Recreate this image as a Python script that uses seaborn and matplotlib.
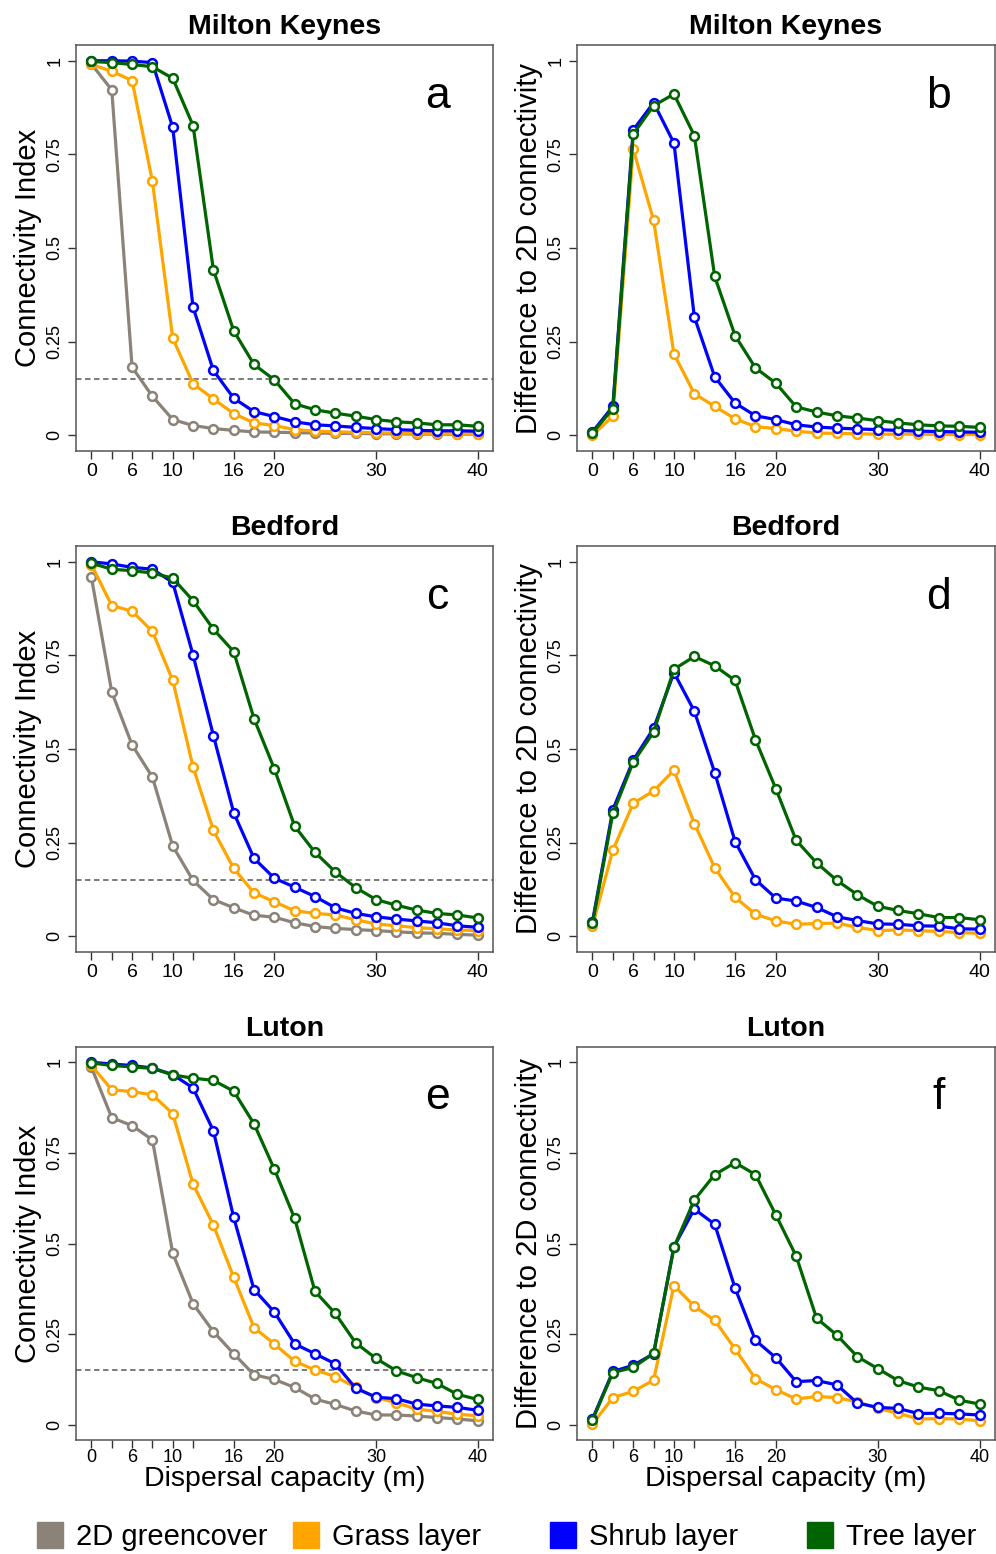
import matplotlib
matplotlib.use("Agg")
import matplotlib.pyplot as plt
import seaborn as sns
import pandas as pd
from matplotlib.lines import Line2D

# dispersal distances (m), plotted at equal spacing
distances = [0, 3, 6, 8, 10, 12, 14, 16, 18, 20, 22, 24, 26, 28, 30, 32, 34, 36, 38, 40]
tick_distances = [0, 3, 6, 8, 10, 12, 16, 20, 30, 40]
tick_labels = ["0", "", "6", "", "10", "", "16", "20", "30", "40"]

layers = ["2D greencover", "Grass layer", "Shrub layer", "Tree layer"]
layer_colors = ["#8B8378", "#FFA500", "#0000FF", "#006400"]
threshold = 0.15

# Milton Keynes - connectivity index
mk_conn_2d = [0.991, 0.922, 0.182, 0.104, 0.042, 0.026, 0.018, 0.013, 0.009, 0.008,
              0.007, 0.006, 0.005, 0.005, 0.004, 0.004, 0.003, 0.003, 0.003, 0.003]
mk_conn_grass = [0.990, 0.972, 0.947, 0.678, 0.259, 0.138, 0.097, 0.058, 0.033, 0.026,
                 0.015, 0.011, 0.009, 0.008, 0.007, 0.006, 0.005, 0.005, 0.004, 0.004]
mk_conn_shrub = [1.0, 1.0, 0.999, 0.995, 0.822, 0.342, 0.173, 0.099, 0.063, 0.050,
                 0.036, 0.028, 0.025, 0.021, 0.018, 0.015, 0.013, 0.012, 0.012, 0.011]
mk_conn_tree = [0.998, 0.995, 0.990, 0.984, 0.953, 0.827, 0.442, 0.279, 0.189, 0.148,
                0.084, 0.068, 0.059, 0.051, 0.042, 0.036, 0.033, 0.028, 0.028, 0.024]

# Milton Keynes - difference to 2D
mk_diff_grass = [0.0, 0.051, 0.764, 0.574, 0.217, 0.111, 0.077, 0.044, 0.023, 0.018,
                 0.011, 0.006, 0.005, 0.004, 0.003, 0.003, 0.003, 0.002, 0.002, 0.002]
mk_diff_shrub = [0.009, 0.077, 0.815, 0.888, 0.780, 0.316, 0.156, 0.086, 0.052, 0.042,
                 0.028, 0.022, 0.019, 0.017, 0.015, 0.013, 0.011, 0.010, 0.009, 0.008]
mk_diff_tree = [0.006, 0.071, 0.804, 0.880, 0.911, 0.800, 0.424, 0.266, 0.180, 0.139,
                0.076, 0.062, 0.052, 0.046, 0.039, 0.033, 0.028, 0.025, 0.024, 0.021]

# Bedford - connectivity index
bd_conn_2d = [0.958, 0.652, 0.511, 0.425, 0.241, 0.149, 0.098, 0.076, 0.056, 0.051,
              0.036, 0.026, 0.021, 0.018, 0.015, 0.012, 0.009, 0.008, 0.005, 0.003]
bd_conn_grass = [0.992, 0.883, 0.868, 0.814, 0.683, 0.452, 0.283, 0.181, 0.116, 0.092,
                 0.068, 0.061, 0.057, 0.044, 0.033, 0.028, 0.023, 0.020, 0.017, 0.015]
bd_conn_shrub = [1.0, 0.994, 0.985, 0.980, 0.945, 0.751, 0.536, 0.330, 0.208, 0.155,
                 0.131, 0.106, 0.076, 0.061, 0.052, 0.046, 0.041, 0.036, 0.028, 0.024]
bd_conn_tree = [0.996, 0.980, 0.976, 0.970, 0.956, 0.896, 0.820, 0.760, 0.581, 0.447,
                0.294, 0.224, 0.172, 0.130, 0.098, 0.083, 0.070, 0.061, 0.057, 0.049]

# Bedford - difference to 2D
bd_diff_grass = [0.028, 0.230, 0.355, 0.388, 0.443, 0.301, 0.183, 0.104, 0.059, 0.041,
                 0.032, 0.034, 0.035, 0.024, 0.015, 0.017, 0.015, 0.013, 0.010, 0.008]
bd_diff_shrub = [0.039, 0.338, 0.470, 0.555, 0.704, 0.601, 0.437, 0.253, 0.151, 0.102,
                 0.094, 0.077, 0.052, 0.042, 0.033, 0.032, 0.028, 0.027, 0.020, 0.019]
bd_diff_tree = [0.035, 0.328, 0.465, 0.545, 0.713, 0.747, 0.722, 0.683, 0.525, 0.394,
                0.256, 0.196, 0.149, 0.111, 0.080, 0.069, 0.060, 0.050, 0.050, 0.044]

# Luton - connectivity index
lu_conn_2d = [0.986, 0.847, 0.825, 0.786, 0.473, 0.334, 0.257, 0.196, 0.138, 0.125,
              0.103, 0.071, 0.056, 0.038, 0.027, 0.027, 0.024, 0.020, 0.016, 0.011]
lu_conn_grass = [0.991, 0.924, 0.919, 0.910, 0.858, 0.664, 0.551, 0.407, 0.268, 0.223,
                 0.175, 0.151, 0.133, 0.103, 0.075, 0.061, 0.043, 0.037, 0.029, 0.025]
lu_conn_shrub = [1.0, 0.995, 0.991, 0.984, 0.966, 0.929, 0.811, 0.572, 0.373, 0.311,
                 0.223, 0.196, 0.168, 0.101, 0.076, 0.072, 0.057, 0.052, 0.048, 0.040]
lu_conn_tree = [0.998, 0.991, 0.987, 0.983, 0.965, 0.956, 0.950, 0.920, 0.830, 0.705,
                0.569, 0.368, 0.307, 0.226, 0.183, 0.149, 0.130, 0.114, 0.084, 0.070]

# Luton - difference to 2D
lu_diff_grass = [0.002, 0.075, 0.092, 0.123, 0.384, 0.327, 0.288, 0.209, 0.127, 0.097,
                 0.071, 0.078, 0.075, 0.063, 0.045, 0.032, 0.016, 0.017, 0.016, 0.011]
lu_diff_shrub = [0.016, 0.147, 0.164, 0.196, 0.491, 0.595, 0.553, 0.377, 0.233, 0.185,
                 0.119, 0.122, 0.110, 0.060, 0.048, 0.045, 0.031, 0.032, 0.030, 0.027]
lu_diff_tree = [0.013, 0.144, 0.158, 0.197, 0.490, 0.620, 0.690, 0.723, 0.690, 0.579,
                0.465, 0.294, 0.247, 0.188, 0.155, 0.122, 0.104, 0.094, 0.068, 0.057]

panels = [
    ("Milton Keynes", "a", "conn", [mk_conn_2d, mk_conn_grass, mk_conn_shrub, mk_conn_tree]),
    ("Milton Keynes", "b", "diff", [None, mk_diff_grass, mk_diff_shrub, mk_diff_tree]),
    ("Bedford", "c", "conn", [bd_conn_2d, bd_conn_grass, bd_conn_shrub, bd_conn_tree]),
    ("Bedford", "d", "diff", [None, bd_diff_grass, bd_diff_shrub, bd_diff_tree]),
    ("Luton", "e", "conn", [lu_conn_2d, lu_conn_grass, lu_conn_shrub, lu_conn_tree]),
    ("Luton", "f", "diff", [None, lu_diff_grass, lu_diff_shrub, lu_diff_tree]),
]


def make_frame(series):
    """Long table of one panel: position index, distance, layer, value."""
    rows = []
    for layer, values in zip(layers, series):
        if values is None:
            continue
        for i, (d, v) in enumerate(zip(distances, values)):
            rows.append({"pos": i, "distance": d, "layer": layer, "value": v})
    return pd.DataFrame(rows)


sns.set_theme(style="ticks")
plt.rcParams["font.family"] = ["Liberation Sans", "DejaVu Sans"]
plt.rcParams["text.color"] = "black"
plt.rcParams["axes.labelcolor"] = "black"
plt.rcParams["xtick.color"] = "black"
plt.rcParams["ytick.color"] = "black"

W, H = 996, 1554
fig = plt.figure(figsize=(W / 100, H / 100), dpi=100)

# axes boxes in pixels (left, top, right, bottom)
boxes = [
    (76, 45, 493, 451), (577, 45, 995, 451),
    (76, 546, 493, 952), (577, 546, 995, 952),
    (76, 1047, 493, 1440), (577, 1047, 995, 1440),
]

for k, ((city, letter, kind, series), (l, t, r, b)) in enumerate(zip(panels, boxes)):
    ax = fig.add_axes([l / W, 1 - b / H, (r - l) / W, (b - t) / H])
    df = make_frame(series)
    bottom_row = k >= 4

    if kind == "conn":
        ax.axhline(threshold, color="#707070", ls=(0, (3, 2)), lw=1.3, zorder=1)

    for layer, color in zip(layers, layer_colors):
        sub = df[df["layer"] == layer]
        if sub.empty:
            continue
        sns.lineplot(data=sub, x="pos", y="value", ax=ax, color=color, lw=2.3,
                     marker="o", markersize=6.3, markerfacecolor="white",
                     markeredgecolor=color, markeredgewidth=1.8, zorder=3)

    ax.set_xlim(-0.76, len(distances) - 1 + 0.76)
    ax.set_ylim(-0.042, 1.042)
    ax.set_xticks([distances.index(d) for d in tick_distances])
    ax.set_xticklabels(tick_labels, fontsize=13 if bottom_row else 14)
    ax.set_yticks([0, 0.25, 0.5, 0.75, 1])
    ax.set_yticklabels(["0", "0.25", "0.5", "0.75", "1"], fontsize=13,
                       rotation=90, va="center")
    ax.tick_params(axis="both", length=6, width=1, color="#333333", pad=3)
    if bottom_row:
        ax.tick_params(axis="x", pad=0.5)

    for sp in ax.spines.values():
        sp.set_color("#555555")
        sp.set_linewidth(1.1)

    ax.set_title(city, fontsize=20.5, fontweight="bold", pad=8)
    ax.text(0.866, 0.872, letter, transform=ax.transAxes, fontsize=32,
            ha="center", va="center")

    if kind == "conn":
        ax.set_ylabel("Connectivity Index", fontsize=21, labelpad=3)
    else:
        ax.set_ylabel("Difference to 2D connectivity", fontsize=21, labelpad=3)

    if bottom_row:
        ax.set_xlabel("Dispersal capacity (m)", fontsize=20.5, labelpad=0)
    else:
        ax.set_xlabel("")

# legend entries at the bottom, one per layer
legend_x = [37, 293, 550, 807]
for name, color, x in zip(layers, layer_colors, legend_x):
    handle = Line2D([], [], ls="none", marker="s", markersize=19, color=color, label=name)
    fig.legend(handles=[handle], loc="center left", bbox_to_anchor=(x / W, 1 - 1537 / H),
               frameon=False, fontsize=21, handlelength=0.9, handletextpad=0.45,
               borderpad=0, borderaxespad=0)

fig.savefig("out.png", dpi=100)
